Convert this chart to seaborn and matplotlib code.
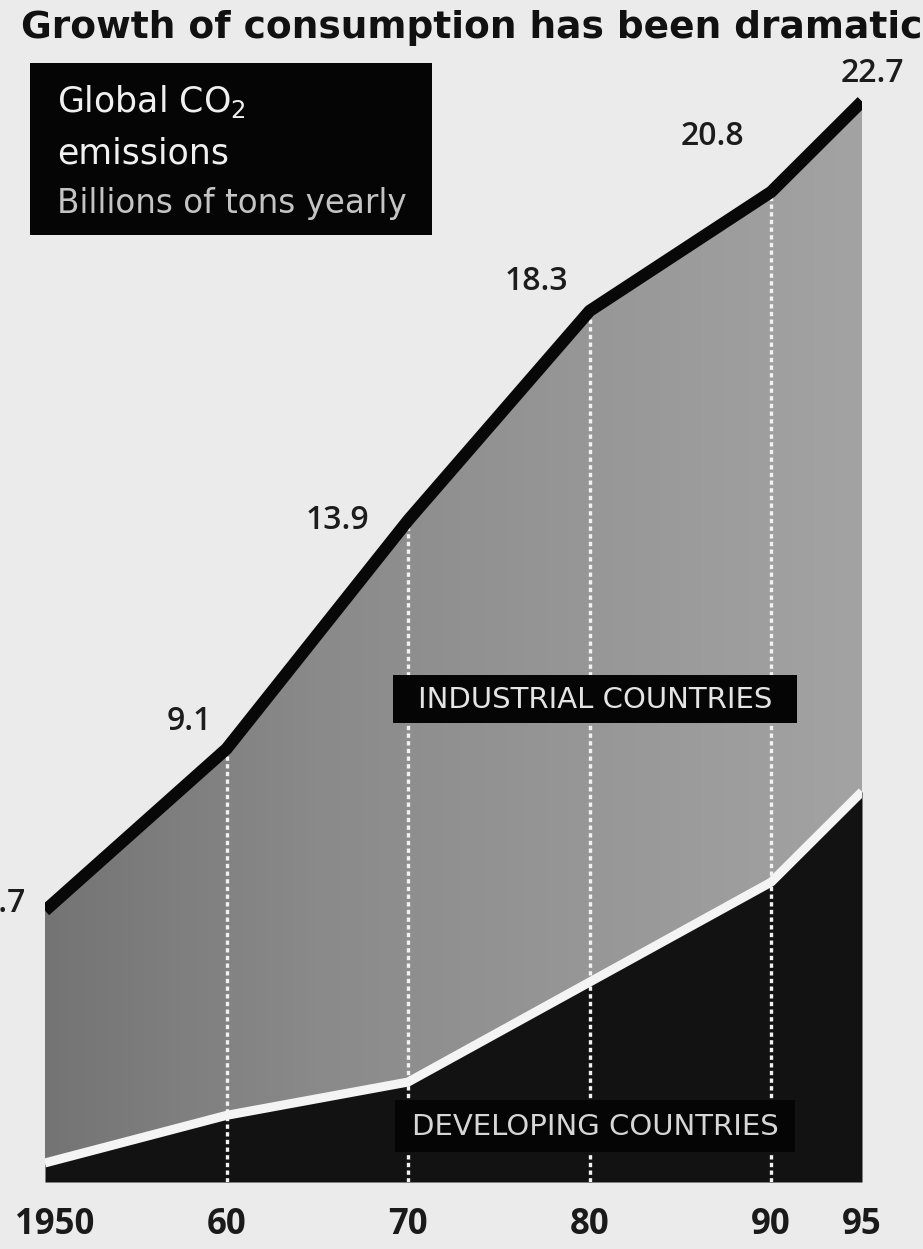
import numpy as np
import pandas as pd
import matplotlib
matplotlib.use("Agg")
import matplotlib.pyplot as plt
import matplotlib.transforms as mtransforms
import seaborn as sns
from matplotlib.patches import Rectangle
from matplotlib.colors import LinearSegmentedColormap

# ---- data (billions of tons of CO2 yearly) ----
years = [1950, 1960, 1970, 1980, 1990, 1995]
total = [5.7, 9.1, 13.9, 18.3, 20.8, 22.7]
developing = [0.4, 1.4, 2.1, 4.2, 6.3, 8.2]
total_labels = ["5.7", "9.1", "13.9", "18.3", "20.8", "22.7"]
tick_labels = ["1950", "60", "70", "80", "90", "95"]
label_offsets = [(-20, 7), (-37, 27), (-71, 0), (-53, 29), (-59, 55), (10, 28)]

title = "Growth of consumption has been dramatic"
box_title = "Global CO$_2$"
box_title2 = "emissions"
box_sub = "Billions of tons yearly"
industrial_name = "INDUSTRIAL COUNTRIES"
developing_name = "DEVELOPING COUNTRIES"

sns.set_theme(style="white")
plt.rcParams["font.family"] = ["DejaVu Sans"]
plt.rcParams["mathtext.fontset"] = "dejavusans"

NUM_FONT = ["Open Sans", "DejaVu Sans"]
BG = "#ebebeb"
W, H = 923, 1249
fig = plt.figure(figsize=(W / 100, H / 100), dpi=100, facecolor=BG)

ymax = 23.57
ax = fig.add_axes([45 / W, (H - 1182) / H, 817 / W, 1122 / H])
ax.set_facecolor(BG)

df = pd.DataFrame({"year": years, "total": total, "developing": developing})

# industrial (gray, gradient) area
poly = ax.fill_between(df["year"], df["developing"], df["total"], color="none", lw=0)
cmap = LinearSegmentedColormap.from_list("g", ["#747474", "#8a8a8a", "#979797", "#a3a3a3"])
grad = np.linspace(0, 1, 256).reshape(1, -1)
im = ax.imshow(grad, extent=[1950, 1995, 0, ymax], aspect="auto", cmap=cmap,
               origin="lower", zorder=1)
im.set_clip_path(poly.get_paths()[0], transform=ax.transData)

# developing (dark) area
ax.fill_between(df["year"], 0, df["developing"], color="#121212", lw=0, zorder=2)

# white dotted year guides
ax.vlines(df["year"].iloc[1:-1], 0, df["total"].iloc[1:-1], colors="#f2f2f2",
          linestyles=(0, (1.3, 1.0)), lw=2.4, zorder=3)

# white boundary line
sns.lineplot(data=df, x="year", y="developing", ax=ax, color="#f4f4f4", lw=6.5,
             zorder=4, solid_capstyle="butt")
# total line
sns.lineplot(data=df, x="year", y="total", ax=ax, color="#080808", lw=8.8,
             zorder=5, solid_capstyle="butt")

for i, (x, y, lab, off) in enumerate(zip(years, total, total_labels, label_offsets)):
    ha = "right" if i == 0 else "center"
    ax.annotate(lab, (x, y), xytext=off, textcoords="offset pixels", ha=ha,
                va="center", fontsize=23, fontweight="semibold", family=NUM_FONT,
                color="#1c1c1c", zorder=6, annotation_clip=False)

ax.set_xlim(1950, 1995)
ax.set_ylim(0, ymax)
ax.set_xticks(years)
ax.set_xticklabels(tick_labels, fontsize=25, fontweight="bold", color="#1a1a1a",
                   family=NUM_FONT)
ax.tick_params(axis="x", length=0, pad=18)
first = ax.get_xticklabels()[0]
first.set_transform(first.get_transform() +
                    mtransforms.ScaledTranslation(10 / 100, 0, fig.dpi_scale_trans))
ax.set_yticks([])
ax.set_xlabel("")
ax.set_ylabel("")
for s in ax.spines.values():
    s.set_visible(False)

# category label boxes
for (x0, y0, x1, y1), name, col in [((393, 675, 797, 723), industrial_name, "#e4e4e4"),
                                    ((395, 1100, 795, 1152), developing_name, "#d6d6d6")]:
    fig.add_artist(Rectangle((x0 / W, 1 - y1 / H), (x1 - x0) / W, (y1 - y0) / H,
                             transform=fig.transFigure, fc="#050505", ec="none", zorder=7))
    fig.text((x0 + x1) / 2 / W, 1 - ((y0 + y1) / 2 + 1) / H, name, ha="center",
             va="center", fontsize=21, color=col, zorder=8)

# title
fig.text(21 / W, 1 - 38 / H, title, ha="left", va="baseline", fontsize=27,
         fontweight="bold", color="#111111")

# black legend box
fig.add_artist(Rectangle((30 / W, 1 - 235 / H), 402 / W, 172 / H,
                         transform=fig.transFigure, fc="#050505", ec="none"))
fig.text(57 / W, 1 - 112 / H, box_title, ha="left", va="baseline", fontsize=25,
         color="#f0f0f0")
fig.text(57 / W, 1 - 163 / H, box_title2, ha="left", va="baseline", fontsize=25,
         color="#f0f0f0")
fig.text(57 / W, 1 - 213 / H, box_sub, ha="left", va="baseline", fontsize=23.5,
         color="#c4c4c4")

fig.savefig("out.png", dpi=100, facecolor=BG)
